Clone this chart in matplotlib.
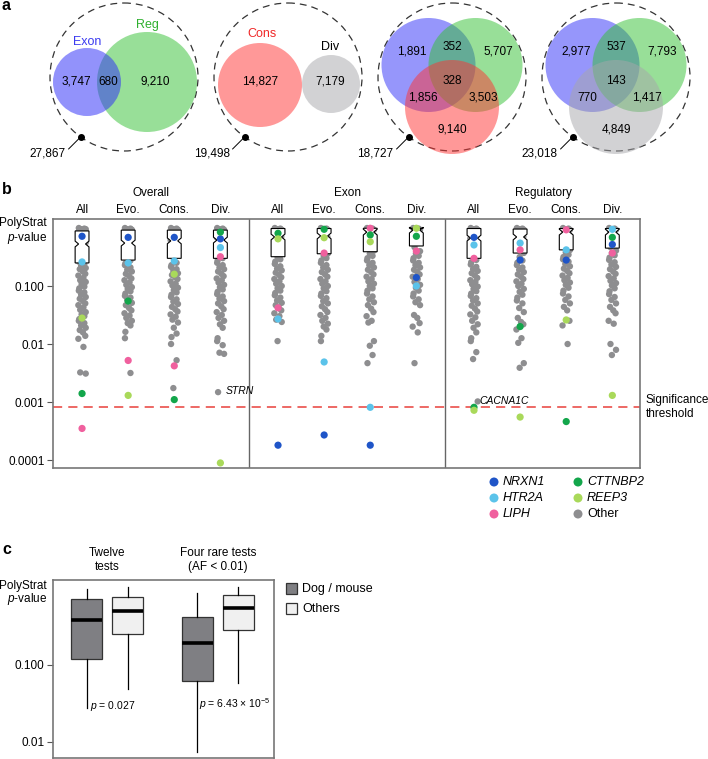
import numpy as np
import matplotlib
matplotlib.use('Agg')
import matplotlib.pyplot as plt
from matplotlib.patches import Circle, Rectangle
from matplotlib.transforms import blended_transform_factory as btf
from matplotlib.ticker import NullLocator

plt.rcParams['font.family'] = ['Liberation Sans', 'DejaVu Sans']
plt.rcParams['font.size'] = 8.5
plt.rcParams['mathtext.fontset'] = 'custom'
plt.rcParams['mathtext.rm'] = 'Liberation Sans'
plt.rcParams['mathtext.it'] = 'Liberation Sans:italic'

# ------------------------------------------------------------------ data
venn1_sets = ['Exon', 'Reg']
venn1_counts = [3747, 680, 9210]
venn1_total = 27867
venn2_sets = ['Cons', 'Div']
venn2_counts = [14827, 7179]
venn2_total = 19498
venn3_counts = [1891, 352, 5707, 328, 1856, 3503, 9140]
venn3_total = 18727
venn4_counts = [2977, 537, 7793, 143, 770, 1417, 4849]
venn4_total = 23018

groups = ['Overall', 'Exon', 'Regulatory']
subsets = ['All', 'Evo.', 'Cons.', 'Div.']
genes = ['NRXN1', 'HTR2A', 'LIPH', 'CTTNBP2', 'REEP3']
gene_colors = ['#1f55c8', '#5bc3ea', '#f0609e', '#13a64b', '#a9d95a']
other_color = '#8e8e90'

# p-values of highlighted genes for the 12 columns
gene_p = {
    'NRXN1':   [0.72, 0.69, 0.69, 0.65, 1.8e-4, 2.7e-4, 1.8e-4, 0.14, 0.69, 0.28, 0.28, 0.52],
    'HTR2A':   [0.26, 0.25, 0.27, 0.46, 0.027, 0.0049, 8.1e-4, 0.10, 0.51, 0.55, 0.42, 0.95],
    'LIPH':    [3.5e-4, 0.0052, 0.0042, 0.32, 0.042, 0.37, 0.99, 0.40, 0.30, 0.42, 0.93, 0.37],
    'CTTNBP2': [0.0014, 0.055, 0.0011, 0.85, 0.81, 0.95, 0.76, 0.72, 8.1e-4, 0.020, 4.6e-4, 0.69],
    'REEP3':   [0.028, 0.0013, 0.16, 8.9e-5, 0.65, 0.68, 0.58, 0.99, 7.2e-4, 5.5e-4, 0.026, 0.0013],
}
# other genes: -log10(p) per column
other_nlp = [
    [0.0, 0.01, 0.02, 0.02, 0.03, 0.04, 0.05, 0.07, 0.12, 0.18, 0.25, 0.33, 0.41, 0.5, 0.58, 0.62, 0.65, 0.69, 0.71,
     0.75, 0.79, 0.82, 0.86, 0.9, 0.93, 0.97, 1.01, 1.04, 1.08, 1.11, 1.15, 1.19, 1.22, 1.26, 1.3, 1.33, 1.37, 1.41,
     1.45, 1.49, 1.52, 1.57, 1.6, 1.64, 1.68, 1.72, 1.76, 1.8, 1.86, 1.91, 2.05, 2.49, 2.51],
    [0.0, 0.01, 0.02, 0.03, 0.04, 0.06, 0.1, 0.17, 0.24, 0.32, 0.4, 0.48, 0.56, 0.61, 0.64, 0.68, 0.72, 0.75, 0.79,
     0.83, 0.87, 0.9, 0.94, 0.98, 1.02, 1.05, 1.09, 1.13, 1.17, 1.2, 1.24, 1.29, 1.33, 1.38, 1.42, 1.47, 1.51, 1.55,
     1.6, 1.64, 1.68, 1.79, 1.9, 2.5],
    [0.0, 0.01, 0.02, 0.03, 0.05, 0.08, 0.14, 0.21, 0.29, 0.37, 0.45, 0.53, 0.6, 0.64, 0.67, 0.71, 0.74, 0.78, 0.81,
     0.85, 0.88, 0.92, 0.96, 0.99, 1.03, 1.07, 1.11, 1.15, 1.19, 1.23, 1.27, 1.31, 1.36, 1.4, 1.44, 1.49, 1.53, 1.58,
     1.63, 1.72, 1.82, 1.88, 2.0, 2.28, 2.76],
    [0.0, 0.01, 0.02, 0.03, 0.04, 0.06, 0.1, 0.16, 0.22, 0.3, 0.38, 0.46, 0.52, 0.56, 0.6, 0.64, 0.68, 0.71, 0.75,
     0.79, 0.83, 0.87, 0.9, 0.94, 0.98, 1.02, 1.06, 1.1, 1.14, 1.18, 1.22, 1.26, 1.3, 1.35, 1.4, 1.45, 1.5, 1.55, 1.6,
     1.66, 1.72, 1.9, 1.95, 2.02, 2.15, 2.17, 2.83],
    [0.0, 0.01, 0.02, 0.03, 0.05, 0.09, 0.15, 0.22, 0.3, 0.38, 0.45, 0.5, 0.54, 0.58, 0.62, 0.66, 0.7, 0.73, 0.77,
     0.81, 0.85, 0.88, 0.92, 0.96, 1.0, 1.04, 1.08, 1.12, 1.16, 1.2, 1.25, 1.29, 1.33, 1.38, 1.42, 1.47, 1.52, 1.58,
     1.62, 1.95],
    [0.0, 0.01, 0.02, 0.03, 0.05, 0.09, 0.15, 0.22, 0.3, 0.37, 0.44, 0.48, 0.52, 0.56, 0.6, 0.64, 0.68, 0.72, 0.76,
     0.8, 0.84, 0.88, 0.92, 0.96, 1.0, 1.04, 1.09, 1.13, 1.17, 1.21, 1.26, 1.3, 1.35, 1.4, 1.45, 1.5, 1.55, 1.6, 1.65,
     1.7, 1.75, 1.86, 1.95],
    [0.0, 0.01, 0.02, 0.03, 0.04, 0.07, 0.12, 0.18, 0.25, 0.32, 0.39, 0.44, 0.48, 0.52, 0.56, 0.6, 0.64, 0.68, 0.72,
     0.76, 0.8, 0.84, 0.88, 0.92, 0.96, 1.0, 1.04, 1.08, 1.13, 1.18, 1.23, 1.28, 1.33, 1.39, 1.45, 1.52, 1.6, 1.63,
     1.95, 2.03, 2.19, 2.33],
    [0.0, 0.01, 0.02, 0.03, 0.05, 0.08, 0.13, 0.19, 0.26, 0.33, 0.4, 0.44, 0.48, 0.52, 0.56, 0.6, 0.64, 0.68, 0.72,
     0.76, 0.8, 0.84, 0.88, 0.93, 0.98, 1.03, 1.08, 1.13, 1.18, 1.23, 1.28, 1.33, 1.5, 1.55, 1.64, 1.7, 1.8, 2.33],
    [0.0, 0.01, 0.02, 0.03, 0.04, 0.07, 0.12, 0.18, 0.26, 0.34, 0.42, 0.5, 0.55, 0.59, 0.63, 0.67, 0.71, 0.74, 0.78,
     0.82, 0.86, 0.9, 0.93, 0.97, 1.01, 1.05, 1.09, 1.13, 1.17, 1.21, 1.25, 1.3, 1.34, 1.39, 1.44, 1.49, 1.54, 1.6,
     1.66, 1.72, 1.8, 1.9, 1.95, 2.14, 2.26, 2.99],
    [0.0, 0.01, 0.02, 0.03, 0.05, 0.09, 0.15, 0.22, 0.29, 0.36, 0.43, 0.5, 0.56, 0.6, 0.64, 0.68, 0.72, 0.76, 0.8,
     0.84, 0.88, 0.92, 0.96, 1.0, 1.05, 1.1, 1.15, 1.2, 1.25, 1.3, 1.38, 1.45, 1.55, 1.62, 1.66, 1.75, 1.9, 1.98, 2.33,
     2.41],
    [0.0, 0.01, 0.02, 0.03, 0.04, 0.07, 0.12, 0.18, 0.25, 0.32, 0.38, 0.42, 0.46, 0.5, 0.54, 0.58, 0.62, 0.66, 0.7,
     0.74, 0.78, 0.82, 0.86, 0.9, 0.94, 0.98, 1.03, 1.08, 1.13, 1.18, 1.24, 1.3, 1.36, 1.42, 1.6, 1.68, 2.0],
    [0.0, 0.01, 0.02, 0.03, 0.05, 0.08, 0.13, 0.19, 0.26, 0.33, 0.39, 0.43, 0.47, 0.51, 0.55, 0.59, 0.63, 0.67, 0.71,
     0.75, 0.79, 0.83, 0.87, 0.91, 0.95, 0.99, 1.04, 1.09, 1.14, 1.19, 1.24, 1.3, 1.36, 1.42, 1.47, 1.6, 1.65, 2.0,
     2.1, 2.19],
]
labeled_other = [('STRN', 3, 0.0015), ('CACNA1C', 8, 0.001)]
significance_p = 8.2e-4

box_q3 = [0.89, 0.92, 0.92, 0.92, 0.98, 0.98, 0.99, 0.99, 0.98, 0.96, 0.98, 0.98]
box_med = [0.53, 0.55, 0.60, 0.62, 0.70, 0.73, 0.85, 0.92, 0.67, 0.70, 0.85, 0.85]
box_q1 = [0.25, 0.28, 0.30, 0.30, 0.32, 0.36, 0.39, 0.49, 0.30, 0.37, 0.42, 0.45]

c_titles = ['Twelve\ntests', 'Four rare tests\n(AF < 0.01)']
c_series = ['Dog / mouse', 'Others']
c_colors = ['#7f7f83', '#f0f0f0']
c_whislo = [0.0277, 0.049, 0.0074, 0.058]
c_q1 = [0.12, 0.25, 0.062, 0.28]
c_med = [0.38, 0.49, 0.19, 0.55]
c_q3 = [0.72, 0.76, 0.41, 0.79]
c_whishi = [0.97, 1.0, 0.86, 1.0]
c_ptext = [r'$\it{p}$ = 0.027', r'$\it{p}$ = 6.43 × 10$^{-5}$']
c_ptext_y = [0.029, 0.031]

# ------------------------------------------------------------------ figure
W, H = 708, 759
fig = plt.figure(figsize=(W / 100, H / 100), dpi=100)


def ax_px(x0, y0, x1, y1):
    return fig.add_axes([x0 / W, 1 - y1 / H, (x1 - x0) / W, (y1 - y0) / H])


ov = fig.add_axes([0, 0, 1, 1])
ov.set_xlim(0, W)
ov.set_ylim(H, 0)
ov.axis('off')

# panel labels
for lab, y in [('a', 6), ('b', 190), ('c', 550)]:
    ov.text(2, y, lab, fontsize=11.5, fontweight='bold', va='center', ha='left')

# ------------------------------------------------------------------ panel a
BLUE, GREEN, RED, GREY = '#2f2ff8', '#33c033', '#ff3333', '#a7a7ab'
ALPHA = 0.5


def circ(cx, cy, r, color, alpha=ALPHA):
    ov.add_patch(Circle((cx, cy), r, facecolor=color, edgecolor='none', alpha=alpha))


def outer(cx, cy, total):
    R = 74
    ov.add_patch(Circle((cx, cy), R, fill=False, edgecolor='#333333', lw=0.9, linestyle=(0, (5.5, 4))))
    dx, dy = cx - 0.586 * R, cy + 0.81 * R
    ov.plot([dx], [dy], 'o', color='black', ms=4)
    ov.plot([dx, dx - 12], [dy, dy + 12], color='black', lw=0.7)
    ov.text(dx - 15, 153, f'{total:,}', ha='right', va='center')


# venn 1
outer(124, 77, venn1_total)
circ(147, 82, 50, GREEN)
circ(87, 82, 34, BLUE, 0.52)
ov.text(87, 42, venn1_sets[0], color='#3b3bf0', ha='center', va='center', fontsize=9)
ov.text(147, 25, venn1_sets[1], color='#30b030', ha='center', va='center', fontsize=9)
for x, v in zip([76, 108, 155], venn1_counts):
    ov.text(x, 82, f'{v:,}', ha='center', va='center')

# venn 2
outer(288, 77, venn2_total)
circ(260, 85, 42, RED)
circ(331, 84, 29, GREY)
ov.text(262, 34, venn2_sets[0], color='#f02828', ha='center', va='center', fontsize=9)
ov.text(330, 47, venn2_sets[1], color='black', ha='center', va='center', fontsize=9)
ov.text(260, 82, f'{venn2_counts[0]:,}', ha='center', va='center')
ov.text(330, 82, f'{venn2_counts[1]:,}', ha='center', va='center')

# venn 3 and 4
pos3 = [(-40, -26), (0, -31), (46, -26), (0, 3), (-29, 20), (31, 20), (0, 51)]
for cx0, third, counts, total in [(452, RED, venn3_counts, venn3_total),
                                   (616, GREY, venn4_counts, venn4_total)]:
    outer(cx0, 77, total)
    circ(cx0 - 23.5, 65, 47, BLUE)
    circ(cx0 + 23.5, 65, 47, GREEN)
    circ(cx0, 107, 47, third)
    for (ddx, ddy), v in zip(pos3, counts):
        ov.text(cx0 + ddx, 78 + ddy, f'{v:,}', ha='center', va='center')

# ------------------------------------------------------------------ panel b
axb = ax_px(53, 219, 640, 468)
axb.set_yscale('log')
axb.set_ylim(7.28e-5, 1.43)
axb.set_xlim(-0.63, 12.10)
col_x = [g * 4.25 + j for g in range(3) for j in range(4)]
jit = [-0.07, 0.05, -0.02, 0.08, -0.05, 0.02, 0.07, -0.08, 0.03, -0.04, 0.08, -0.01, 0.05, -0.06]

for i, vals in enumerate(other_nlp):
    xs = [col_x[i] + jit[k % len(jit)] for k in range(len(vals))]
    ps = [10 ** (-v) for v in vals]
    axb.scatter(xs, ps, s=21, color=other_color, edgecolors='none', zorder=1)

stats = []
for i in range(12):
    stats.append(dict(med=box_med[i], q1=box_q1[i], q3=box_q3[i],
                      cilo=box_med[i] * 10 ** -0.05, cihi=box_med[i] * 10 ** 0.05,
                      whislo=box_q1[i], whishi=box_q3[i], fliers=[]))
bpb = axb.bxp(stats, positions=col_x, widths=0.3, shownotches=True, patch_artist=True,
              showfliers=False, showcaps=False,
              boxprops=dict(facecolor='white', edgecolor='black', lw=0.8),
              medianprops=dict(lw=0), whiskerprops=dict(lw=0))
for b in bpb['boxes']:
    b.set_zorder(2)

for g, c in zip(genes, gene_colors):
    axb.scatter(col_x, gene_p[g], s=27, color=c, edgecolors='none', zorder=3)

for name, col, p in labeled_other:
    axb.text(col_x[col] + 0.12, p * 1.05, name, style='italic', fontsize=7.5, ha='left', va='center')

axb.axhline(significance_p, color='#e8403a', lw=1.1, dashes=(6, 4), zorder=0.5)
for xd in [3.625, 7.875]:
    axb.axvline(xd, color='#666666', lw=1.0)

tb = btf(axb.transData, axb.transAxes)
for i, x in enumerate(col_x):
    axb.text(x, 1.036, subsets[i % 4], transform=tb, ha='center', va='center')
for g, name in enumerate(groups):
    axb.text(g * 4.25 + 1.5, 1.104, name, transform=tb, ha='center', va='center')
axb.text(1.01, significance_p, 'Significance\nthreshold', transform=btf(axb.transAxes, axb.transData),
         ha='left', va='center', linespacing=1.15)

axb.set_yticks([0.1, 0.01, 0.001, 0.0001])
axb.set_yticklabels(['0.100', '0.01', '0.001', '0.0001'])
axb.yaxis.set_minor_locator(NullLocator())
axb.set_xticks([])
axb.tick_params(axis='y', length=4, width=0.8, color='#555555', pad=2)
for s in axb.spines.values():
    s.set_color('#777777')
    s.set_linewidth(1.2)

ov.text(47, 223, 'PolyStrat', ha='right', va='center')
ov.text(47, 238, r'$\it{p}$-value', ha='right', va='center')

# legend b
leg_items = genes + ['Other']
leg_cols = gene_colors + [other_color]
for k, (lab, c) in enumerate(zip(leg_items, leg_cols)):
    x = 494 if k < 3 else 578
    y = [482, 498, 514][k % 3]
    ov.scatter([x], [y], s=42, color=c, edgecolors='none')
    ov.text(x + 9, y, lab, style='normal' if lab == 'Other' else 'italic', ha='left', va='center', fontsize=9)

# ------------------------------------------------------------------ panel c
axc = ax_px(53, 580, 274, 758)
axc.set_yscale('log')
axc.set_ylim(0.0062, 1.25)
axc.set_xlim(-0.82, 4.57)
c_pos = [0, 1, 2.7, 3.7]
cstats = []
for i in range(4):
    cstats.append(dict(med=c_med[i], q1=c_q1[i], q3=c_q3[i], whislo=c_whislo[i], whishi=c_whishi[i], fliers=[]))
bp = axc.bxp(cstats, positions=c_pos, widths=0.76, patch_artist=True, showfliers=False, showcaps=False,
             boxprops=dict(edgecolor='#333333', lw=0.9),
             medianprops=dict(color='black', lw=2.6, solid_capstyle='butt'),
             whiskerprops=dict(color='black', lw=0.9))
for i, b in enumerate(bp['boxes']):
    b.set_facecolor(c_colors[i % 2])

tc = btf(axc.transData, axc.transAxes)
for k, t in enumerate(c_titles):
    axc.text(c_pos[2 * k] + 0.5, 1.04, t, transform=tc, ha='center', va='bottom', linespacing=1.25)
axc.text(0.63, c_ptext_y[0], c_ptext[0], ha='center', va='center', fontsize=7.5)
axc.text(3.62, c_ptext_y[1], c_ptext[1], ha='center', va='center', fontsize=7.5)

axc.set_yticks([0.1, 0.01])
axc.set_yticklabels(['0.100', '0.01'])
axc.yaxis.set_minor_locator(NullLocator())
axc.set_xticks([])
axc.tick_params(axis='y', length=4, width=0.8, color='#555555', pad=2)
for s in axc.spines.values():
    s.set_color('#777777')
    s.set_linewidth(1.2)

ov.text(47, 586, 'PolyStrat', ha='right', va='center')
ov.text(47, 599, r'$\it{p}$-value', ha='right', va='center')

for k, lab in enumerate(c_series):
    y = 583 + 20 * k
    ov.add_patch(Rectangle((286, y), 11, 11, facecolor=c_colors[k], edgecolor='#333333', lw=0.9))
    ov.text(302, y + 6, lab, ha='left', va='center', fontsize=9)

fig.savefig('out.png', dpi=100)
